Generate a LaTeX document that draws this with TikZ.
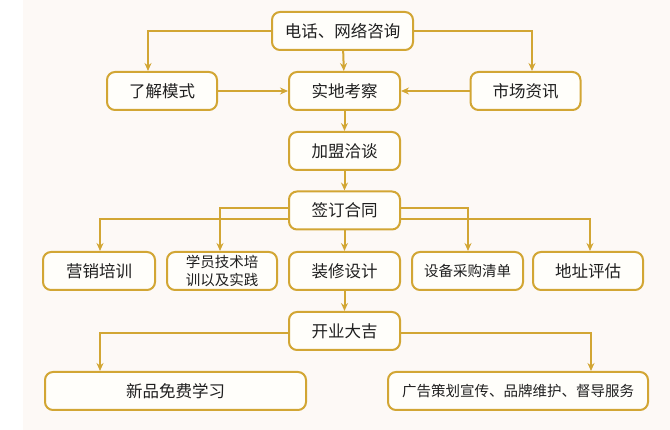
\documentclass[tikz,border=0pt]{standalone}
\usepackage{fontspec}
\setmainfont{Noto Sans CJK SC}
\usetikzlibrary{arrows.meta}
\definecolor{gold}{RGB}{210,166,52}
\definecolor{paper}{RGB}{253,249,246}
\definecolor{boxfill}{RGB}{255,254,250}

\begin{document}
\begin{tikzpicture}[
    x=1pt, y=-1pt,
    box/.style={draw=gold, line width=2pt, rounded corners=8pt, fill=boxfill,
        minimum height=38pt, minimum width=110pt, inner sep=0pt,
        text=black!88, font=\fontsize{16.5}{18}\selectfont},
    smallbox/.style={box, font=\fontsize{14.5}{18}\selectfont},
    arr/.style={draw=gold, line width=2pt, -{Stealth[length=8pt,width=7pt]}}
]
    % page
    \fill[paper] (0,0) rectangle (670,430);
    \fill[white] (0,0) rectangle (23,430);
    \useasboundingbox (0,0) rectangle (670,430);

    % first steps
    \node[box, minimum width=141pt] (tel) at (342.5,31) {电话、网络咨询};
    \node[box] (mode) at (162,91) {了解模式};
    \node[box, minimum width=111pt] (visit) at (344.5,91) {实地考察};
    \node[box] (market) at (525.5,91) {市场资讯};
    \node[box, minimum width=111pt] (talk) at (344.5,151) {加盟洽谈};
    \node[box, minimum width=111pt] (sign) at (344.5,210.5) {签订合同};

    % after signing
    \node[box, minimum width=112pt] (sales) at (99,271) {营销培训};
    \node[smallbox, align=center] (train) at (222,271) {学员技术培\\训以及实践};
    \node[box, minimum width=111pt] (decor) at (344.5,271) {装修设计};
    \node[smallbox, minimum width=111pt] (equip) at (467.5,271) {设备采购清单};
    \node[box] (place) at (588,271) {地址评估};

    % opening
    \node[box, minimum width=111pt] (open) at (344.5,331) {开业大吉};
    \node[box, minimum width=261pt] (learn) at (175.5,391) {新品免费学习};
    \node[smallbox, minimum width=260pt] (ads) at (518,391) {广告策划宣传、品牌维护、督导服务};

    % connectors
    \draw[arr] (tel.west) -| ([xshift=-14pt]mode.north);
    \draw[arr] (tel.east) -| ([xshift=6.5pt]market.north);
    \draw[arr] (tel) -- (visit);
    \draw[arr] (mode) -- (visit);
    \draw[arr] (market) -- (visit);
    \draw[arr] (visit) -- (talk);
    \draw[arr] (talk) -- (sign);

    \draw[arr] ([yshift=-8.5pt]sign.west) -| ([xshift=1pt]sales.north);
    \draw[arr] ([yshift=2.5pt]sign.west) -| ([xshift=-2pt]train.north);
    \draw[arr] (sign) -- (decor);
    \draw[arr] ([yshift=2.5pt]sign.east) -| ([xshift=0.5pt]equip.north);
    \draw[arr] ([yshift=-8.5pt]sign.east) -| ([xshift=2pt]place.north);

    \draw[arr] (decor) -- (open);
    \draw[arr] ([yshift=-2pt]open.west) -| ([xshift=-75.5pt]learn.north);
    \draw[arr] ([yshift=-2pt]open.east) -| ([xshift=73pt]ads.north);
\end{tikzpicture}
\end{document}
